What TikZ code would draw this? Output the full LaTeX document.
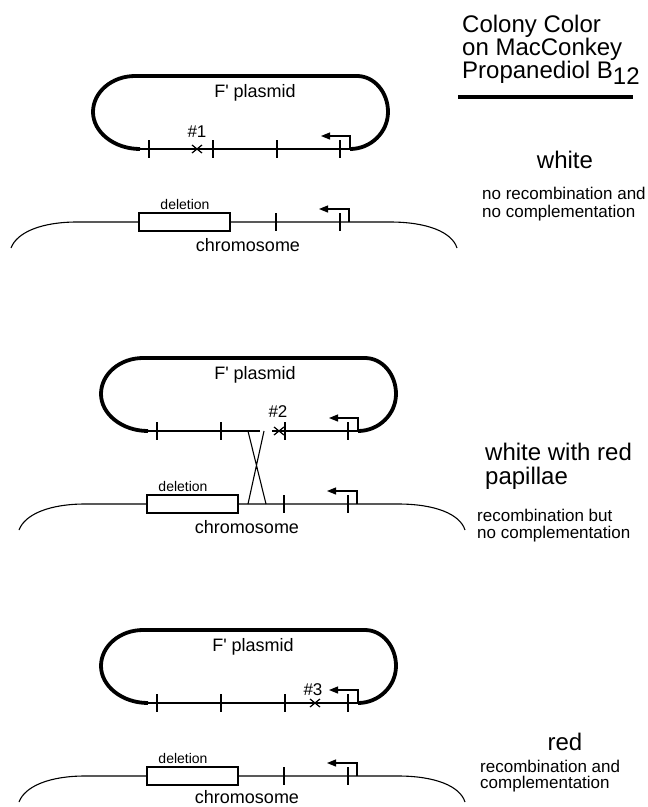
\documentclass[tikz,border=0pt]{standalone}
\usepackage{fontspec}
\setmainfont{Liberation Sans}
\usetikzlibrary{arrows.meta}
\newcommand{\fplasmidring}{%
  \draw[ringline] (148,0) .. controls (122,0) and (101,-17) .. (101,-37)
     .. controls (101,-57) and (120,-73) .. (143,-73) -- (365,-73)
     .. controls (382,-73) and (396,-57) .. (396,-37)
     .. controls (396,-17) and (379,0) .. (358,0);
  \foreach \t in {157,221,285,348} \draw[tickmark] (\t,-9) -- (\t,9);
  \draw[promoter] (358,0) -- (358,-13) -- (329,-13);
}
\newcommand{\chromline}{%
  \draw[dna] (19,99) .. controls (25,83) and (50,73) .. (85,73) -- (147,73);
  \draw[dna] (147,64) rectangle (238,82);
  \draw[dna] (238,73) -- (398,73) .. controls (435,73) and (460,83) .. (465,99);
  \foreach \t in {284,348} \draw[tickmark] (\t,64) -- (\t,82);
  \draw[promoter] (357,73) -- (357,60) -- (327,60);
}
\newcommand{\xmark}[1]{\draw[xline] (#1-5,-4) -- (#1+5,4) (#1-5,4) -- (#1+5,-4);}
\newcommand{\fprime}{F\textquotesingle{} plasmid}
\begin{document}
\begin{tikzpicture}[x=1pt,y=-1pt,
  ringline/.style={line width=3.8pt},
  dna/.style={line width=1.1pt},
  tickmark/.style={line width=1.1pt},
  xline/.style={line width=1.2pt},
  promoter/.style={line width=1.1pt,-{Triangle[length=9pt,width=7pt]}},
  biglbl/.style={font=\fontsize{24}{24}\selectfont,inner sep=0},
  smalllbl/.style={font=\fontsize{17}{17}\selectfont,inner sep=0},
  midlbl/.style={font=\fontsize{18}{18}\selectfont,inner sep=0},
  dellbl/.style={font=\fontsize{14}{14}\selectfont,inner sep=0}]
\useasboundingbox (0,0) rectangle (648,807);
\fill[white] (0,0) rectangle (648,807);

% heading
\node[biglbl,anchor=base west] (h1) at (462,32) {Colony Color};
\node[biglbl,anchor=base west] (h2) at (462,55) {on MacConkey};
\node[biglbl,anchor=base west] (h3) at (462,78) {Propanediol B\raisebox{-6pt}{12}};
\draw[line width=3.8pt] (458,97) -- (633,97);

% panel 1
\begin{scope}[shift={(-8,149)}]
  \fplasmidring
  \draw[dna] (148,0) -- (358,0);
  \xmark{205}
  \node[midlbl,anchor=base] (p1) at (263,-52) {\fprime};
  \node[smalllbl,anchor=base] (n1) at (205,-12) {\#1};
  \chromline
  \node[dellbl,anchor=base] (d1) at (193,60.5) {deletion};
  \node[midlbl,anchor=base] (c1) at (256,102.5) {chromosome};
\end{scope}
\node[biglbl,anchor=base] (r1) at (565,168) {white};
\node[smalllbl,anchor=base west] (s1a) at (482,199) {no recombination and};
\node[smalllbl,anchor=base west] (s1b) at (482,217) {no complementation};

% panel 2
\begin{scope}[shift={(0,431)}]
  \fplasmidring
  \draw[dna] (148,0) -- (260,0) (272,0) -- (358,0);
  \xmark{279}
  \node[midlbl,anchor=base] (p2) at (255,-52) {\fprime};
  \node[smalllbl,anchor=base] (n2) at (278,-14) {\#2};
  \chromline
  \coordinate (xa) at (248,0); \coordinate (xb) at (266,73);
  \coordinate (xc) at (264,0); \coordinate (xd) at (248,73);
  \draw[dna] (xa) -- (xb) (xc) -- (xd);
  \node[dellbl,anchor=base] (d2) at (183,60.5) {deletion};
  \node[midlbl,anchor=base] (c2) at (247,102.5) {chromosome};
\end{scope}
\node[biglbl,anchor=base west] (r2a) at (485,460) {white with red};
\node[biglbl,anchor=base west] (r2b) at (485,484) {papillae};
\node[smalllbl,anchor=base west] (s2a) at (477,521) {recombination but};
\node[smalllbl,anchor=base west] (s2b) at (477,538) {no complementation};

% panel 3
\begin{scope}[shift={(0,703)}]
  \fplasmidring
  \draw[dna] (148,0) -- (358,0);
  \xmark{315}
  \node[midlbl,anchor=base] (p3) at (253,-52) {\fprime};
  \node[smalllbl,anchor=base] (n3) at (313,-8) {\#3};
  \chromline
  \node[dellbl,anchor=base] (d3) at (183,60.5) {deletion};
  \node[midlbl,anchor=base] (c3) at (247,100.5) {chromosome};
\end{scope}
\node[biglbl,anchor=base] (r3) at (565,750) {red};
\node[smalllbl,anchor=base west] (s3a) at (480,772) {recombination and};
\node[smalllbl,anchor=base west] (s3b) at (480,788) {complementation};
\end{tikzpicture}
\end{document}
